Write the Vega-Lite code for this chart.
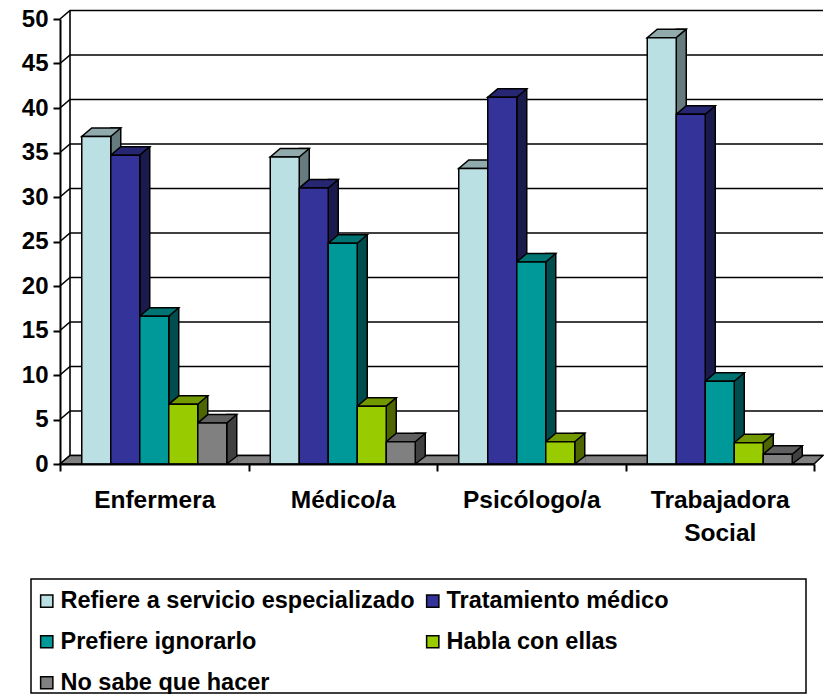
{
"$schema":"https://vega.github.io/schema/vega-lite/v6.json",
"width":754,"height":445,
"padding":{"left":60,"top":19,"right":10,"bottom":230},
"autosize":{"type":"none"},
"background":"white",
"config":{"view":{"stroke":null},"font":"Liberation Sans"},
"datasets":{
"bars":[
{"profesion":"Enfermera","serie":"Refiere a servicio especializado","valor":36.8},
{"profesion":"Enfermera","serie":"Tratamiento médico","valor":34.7},
{"profesion":"Enfermera","serie":"Prefiere ignorarlo","valor":16.6},
{"profesion":"Enfermera","serie":"Habla con ellas","valor":6.7},
{"profesion":"Enfermera","serie":"No sabe que hacer","valor":4.6},
{"profesion":"Médico/a","serie":"Refiere a servicio especializado","valor":34.5},
{"profesion":"Médico/a","serie":"Tratamiento médico","valor":31},
{"profesion":"Médico/a","serie":"Prefiere ignorarlo","valor":24.8},
{"profesion":"Médico/a","serie":"Habla con ellas","valor":6.5},
{"profesion":"Médico/a","serie":"No sabe que hacer","valor":2.5},
{"profesion":"Psicólogo/a","serie":"Refiere a servicio especializado","valor":33.2},
{"profesion":"Psicólogo/a","serie":"Tratamiento médico","valor":41.2},
{"profesion":"Psicólogo/a","serie":"Prefiere ignorarlo","valor":22.7},
{"profesion":"Psicólogo/a","serie":"Habla con ellas","valor":2.5},
{"profesion":"Trabajadora Social","serie":"Refiere a servicio especializado","valor":47.9},
{"profesion":"Trabajadora Social","serie":"Tratamiento médico","valor":39.3},
{"profesion":"Trabajadora Social","serie":"Prefiere ignorarlo","valor":9.3},
{"profesion":"Trabajadora Social","serie":"Habla con ellas","valor":2.4},
{"profesion":"Trabajadora Social","serie":"No sabe que hacer","valor":1.1}
],
"ticks":[{"valor":0},{"valor":5},{"valor":10},{"valor":15},{"valor":20},{"valor":25},{"valor":30},{"valor":35},{"valor":40},{"valor":45},{"valor":50}]
},
"layer":[
{"data":{"name":"ticks"},
 "mark":{"type":"point","shape":"M -377 0 L -367 -8.5 L 386 -8.5","size":4,"filled":false,"stroke":"black","strokeWidth":1.6,"opacity":1},
 "encoding":{"y":{"field":"valor","type":"quantitative","scale":{"domain":[0,50],"nice":false},"axis":{"values":[0,5,10,15,20,25,30,35,40,45,50],"title":null,"grid":false,"domainColor":"black","domainWidth":2,"tickColor":"black","tickWidth":2,"tickSize":7,"labelPadding":5,"labelFont":"Liberation Sans","labelFontWeight":"bold","labelFontSize":24,"labelColor":"black","zindex":1}}}},
{"data":{"name":"ticks"},"transform":[{"filter":"datum.valor==50"}],
 "mark":{"type":"point","shape":"M -367 -8.5 L -367 436.5","size":4,"filled":false,"stroke":"black","strokeWidth":1.6,"opacity":1},
 "encoding":{"y":{"field":"valor","type":"quantitative"}}},
{"data":{"name":"ticks"},"transform":[{"filter":"datum.valor==0"}],
 "mark":{"type":"point","shape":"M -406 115 L 369 115 L 369 229 L -406 229 Z","size":4,"filled":false,"stroke":"black","strokeWidth":1.5,"opacity":1},
 "encoding":{"y":{"field":"valor","type":"quantitative"}}},
{"data":{"name":"ticks"},"transform":[{"filter":"datum.valor==0"}],
 "mark":{"type":"point","shape":"M -377 0 L 377 0 L 386 -8.5 L -367 -8.5 Z","size":4,"filled":true,"fill":"#808080","stroke":"black","strokeWidth":1.5,"opacity":1},
 "encoding":{"y":{"field":"valor","type":"quantitative"}}},
{"data":{"name":"bars"},
 "mark":{"type":"bar","width":10,"yOffset":-8.5,"stroke":"black","strokeWidth":1.5,"opacity":1},
 "encoding":{
  "x":{"field":"profesion","type":"nominal","sort":null},
  "xOffset":{"field":"serie","type":"nominal","scale":{"domain":["Refiere a servicio especializado","Tratamiento médico","Prefiere ignorarlo","Habla con ellas","No sabe que hacer"],"range":[19.5,208],"paddingInner":0,"paddingOuter":0.75}},
  "y":{"field":"valor","type":"quantitative","stack":null},
  "color":{"field":"serie","type":"nominal","legend":null,"scale":{"domain":["Refiere a servicio especializado","Tratamiento médico","Prefiere ignorarlo","Habla con ellas","No sabe que hacer"],"range":["#667b7d","#1a1a4d","#004d4d","#4d6600","#404040"]}}}},
{"data":{"name":"bars"},
 "mark":{"type":"point","shape":"M 1.76 -0.586 L 1 0 L 1.76 0","size":841,"filled":true,"fill":"#808080","stroke":"black","strokeWidth":1.5,"opacity":1},
 "encoding":{
  "x":{"field":"profesion","type":"nominal","sort":null},
  "xOffset":{"field":"serie","type":"nominal","scale":{"type":"band","domain":["Refiere a servicio especializado","Tratamiento médico","Prefiere ignorarlo","Habla con ellas","No sabe que hacer"],"paddingInner":0,"paddingOuter":0.75}},
  "y":{"datum":0,"type":"quantitative"}}},
{"data":{"name":"bars"},
 "mark":{"type":"point","shape":"M -1 0 L 1 0 L 1.69 -0.586 L -0.31 -0.586 Z","size":841,"filled":true,"stroke":"black","strokeWidth":1.5,"opacity":1},
 "encoding":{
  "x":{"field":"profesion","type":"nominal","sort":null},
  "xOffset":{"field":"serie","type":"nominal","scale":{"type":"band","domain":["Refiere a servicio especializado","Tratamiento médico","Prefiere ignorarlo","Habla con ellas","No sabe que hacer"],"paddingInner":0,"paddingOuter":0.75}},
  "y":{"field":"valor","type":"quantitative"},
  "color":{"field":"serie","type":"nominal","legend":null,"scale":{"domain":["Refiere a servicio especializado","Tratamiento médico","Prefiere ignorarlo","Habla con ellas","No sabe que hacer"],"range":["#91abad","#262673","#007373","#739900","#606060"]}}}},
{"data":{"name":"bars"},
 "mark":{"type":"bar","stroke":"black","strokeWidth":1.5,"opacity":1},
 "encoding":{
  "x":{"field":"profesion","type":"nominal","sort":null,"scale":{"paddingInner":0,"paddingOuter":0},"axis":{"title":null,"labelAngle":0,"labelAlign":"center","tickBand":"extent","domainColor":"black","domainWidth":2,"tickColor":"black","tickWidth":2,"tickSize":7,"labelPadding":29,"labelFont":"Liberation Sans","labelFontWeight":"bold","labelFontSize":24.5,"labelColor":"black","labelLineHeight":33,"labelExpr":"datum.label=='Trabajadora Social'?['Trabajadora','Social']:datum.label","zindex":1}},
  "xOffset":{"field":"serie","type":"nominal","scale":{"domain":["Refiere a servicio especializado","Tratamiento médico","Prefiere ignorarlo","Habla con ellas","No sabe que hacer"],"paddingInner":0,"paddingOuter":0.75}},
  "y":{"field":"valor","type":"quantitative","stack":null},
  "color":{"field":"serie","type":"nominal","scale":{"domain":["Refiere a servicio especializado","Tratamiento médico","Prefiere ignorarlo","Habla con ellas","No sabe que hacer"],"range":["#bbe0e3","#333399","#009999","#99cc00","#808080"]},
   "legend":{"title":null,"orient":"none","legendX":-33,"legendY":562,"direction":"horizontal","columns":2,"gridAlign":"all","padding":8,"symbolType":"square","symbolSize":150,"symbolStrokeColor":"black","symbolStrokeWidth":1.5,"symbolOpacity":1,"labelFont":"Liberation Sans","labelFontWeight":"bold","labelFontSize":23.5,"labelColor":"black","labelLimit":500,"rowPadding":16,"columnPadding":6,"labelOffset":2}}}}
],
"resolve":{"scale":{"color":"independent","xOffset":"independent"}}
}
